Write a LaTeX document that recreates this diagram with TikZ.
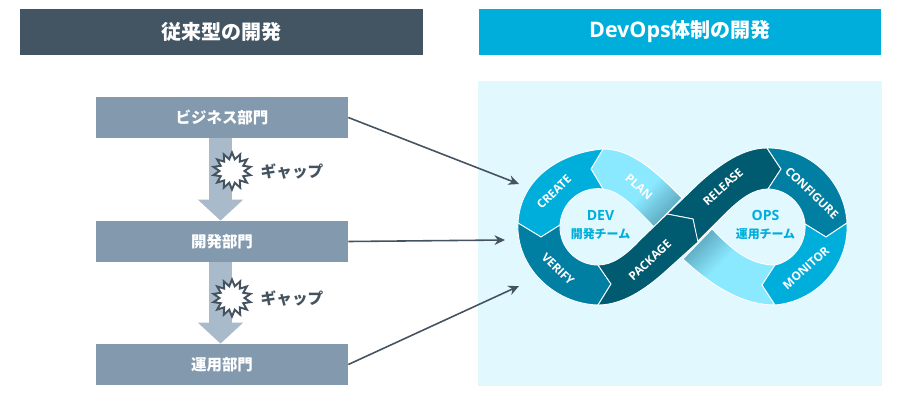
\documentclass[tikz,border=0pt]{standalone}
\usepackage{fontspec}
\setmainfont{Noto Sans CJK JP}
\newfontfamily\latinfont{Open Sans}
\usetikzlibrary{arrows.meta,shapes.symbols}
\definecolor{headdark}{HTML}{435563}
\definecolor{headblue}{HTML}{00AEDB}
\definecolor{panelblue}{HTML}{E1F8FF}
\definecolor{boxgray}{HTML}{8399AD}
\definecolor{shaftgray}{HTML}{A9BBCA}
\definecolor{linkdark}{HTML}{44535F}
\definecolor{looplight}{HTML}{8AE8FF}
\definecolor{loopfade}{HTML}{5DA9BE}
\definecolor{loopmid}{HTML}{007FA3}
\definecolor{loopdeep}{HTML}{005A70}
\pgfdeclarehorizontalshading{loopshade}{100bp}{color(0bp)=(looplight); color(55bp)=(looplight); color(75bp)=(loopfade); color(100bp)=(loopfade)}
\tikzset{
  headbox/.style={rectangle,minimum width=8.06cm,minimum height=0.92cm,inner sep=0pt,text=white,font=\fontsize{11.4}{13}\selectfont\bfseries},
  deptbox/.style={rectangle,fill=boxgray,minimum width=5.04cm,minimum height=0.82cm,inner sep=0pt,text=white,font=\fontsize{8.8}{10}\selectfont\bfseries},
  gaparrow/.style={draw=shaftgray,line width=0.46cm,-{Triangle[length=0.42cm,width=0.88cm]}},
  burst/.style={shape=starburst,starburst points=14,starburst point height=0.13cm,random starburst=0,draw=linkdark,line width=1.1pt,fill=white,minimum width=0.76cm,minimum height=0.74cm,inner sep=0pt},
  gaptext/.style={text=linkdark,inner sep=0pt,font=\fontsize{8.9}{10}\selectfont\bfseries},
  link/.style={draw=linkdark,line width=0.9pt,-{Stealth[length=6pt,width=5.5pt]}},
  seg/.style={draw=white,line width=0.5pt,line join=miter},
  seglabel/.style={text=white,inner sep=0pt,font=\fontsize{6.7}{8}\selectfont\bfseries\latinfont},
  teamlabel/.style={text=headblue,align=center,inner sep=0pt,font=\fontsize{6.8}{10}\selectfont\bfseries}
}
\begin{document}
\begin{tikzpicture}[x=0.02cm,y=-0.02cm]
\useasboundingbox (0,0) rectangle (900,400);
\node[headbox,fill=headdark] (oldhead) at (221.5,32) {従来型の開発};
\node[headbox,fill=headblue] (newhead) at (680,31.5) {{\latinfont\fontsize{12.2}{13}\selectfont DevOps}体制の開発};
\node[rectangle,fill=panelblue,minimum width=8.08cm,minimum height=6.1cm,inner sep=0pt] (panel) at (680,233.5) {};

\node[deptbox] (bizbox) at (222,117.5) {ビジネス部門};
\node[deptbox] (devbox) at (222,241.5) {開発部門};
\node[deptbox] (opsbox) at (222,364.5) {運用部門};

\draw[gaparrow] ([xshift=-0.03cm]bizbox.south) -- ([xshift=-0.03cm]devbox.north);
\draw[gaparrow] ([xshift=-0.03cm]devbox.south) -- ([xshift=-0.03cm]opsbox.north);
\node[burst] (gapa) at (232,171) {};
\node[burst] (gapb) at (232,298) {};
\node[gaptext] (gapatext) at (292,171) {ギャップ};
\node[gaptext] (gapbtext) at (292,298) {ギャップ};

\coordinate (bizend) at (519,184);
\coordinate (devend) at (505,240);
\coordinate (opsend) at (519,286);
\draw[link] (bizbox.east) -- (bizend);
\draw[link] (devbox.east) -- (devend);
\draw[link] (opsbox.east) -- (opsend);

% the loop
\path[seg,shading=loopshade,shading angle=-45] (603,149) .. controls (628,149) and (650,165) .. (682,198) -- (654,227) .. controls (630,202) and (618,191) .. (603,189) -- (591,169) -- cycle;
\path[seg,shading=loopshade,shading angle=135] (775,305) .. controls (745,305) and (715,289) .. (683,259) -- (712,229) .. controls (730,247) and (748,265) .. (775,265) -- (762,285) -- cycle;
\path[seg,fill=headblue] (518,223) .. controls (520.3,179) and (559.1,152.8) .. (603,149) -- (591,169) -- (603,189) .. controls (580.9,185.9) and (561.2,202.7) .. (560,225) -- (541,237) -- cycle;
\path[seg,fill=loopmid] (518,223) .. controls (515.7,266.8) and (554.1,303.9) .. (598,305) -- (611,284) -- (598,265) .. controls (576.2,265) and (558.9,246.8) .. (560,225) -- (541,237) -- cycle;
\path[seg,fill=loopdeep] (767,148) .. controls (743,148) and (720,164) .. (698,184) -- (667,214) -- (693,219) -- (697,242) -- (725,214) .. controls (741,198) and (754,189) .. (768,189) -- (781,169) -- cycle;
\path[seg,fill=loopdeep] (598,305) .. controls (622,305) and (645,290) .. (667,270) -- (698,242) -- (693,219) -- (667,214) -- (640,240) .. controls (625,256) and (612,265) .. (598,265) -- (611,284) -- cycle;
\path[seg,fill=loopmid] (767,148) .. controls (809.3,147.3) and (844.8,180.8) .. (847,223) -- (826,237) -- (805,224) .. controls (803.5,204.7) and (787.4,189.5) .. (768,189) -- (781,169) -- cycle;
\path[seg,fill=headblue] (775,305) .. controls (817.1,301.3) and (849.2,265.2) .. (847,223) -- (826,237) -- (805,224) .. controls (806.5,242.9) and (793.6,261) .. (775,265) -- (762,285) -- cycle;

\node[seglabel,rotate=44] (create) at (554,192) {CREATE};
\node[seglabel,rotate=-41] (plan) at (639,187) {PLAN};
\node[seglabel,rotate=-44] (verify) at (558,269) {VERIFY};
\node[seglabel,rotate=43] (package) at (650,260) {PACKAGE};
\node[seglabel,rotate=42] (release) at (723,187) {RELEASE};
\node[seglabel,rotate=-44] (configure) at (812,193) {CONFIGURE};
\node[seglabel,rotate=42] (monitor) at (806,268) {MONITOR};

\node[teamlabel] (devteam) at (600.5,225) {{\latinfont\fontsize{8}{10}\selectfont DEV}\\開発チーム};
\node[teamlabel] (opsteam) at (765.5,225) {{\latinfont\fontsize{8}{10}\selectfont OPS}\\運用チーム};
\end{tikzpicture}
\end{document}
